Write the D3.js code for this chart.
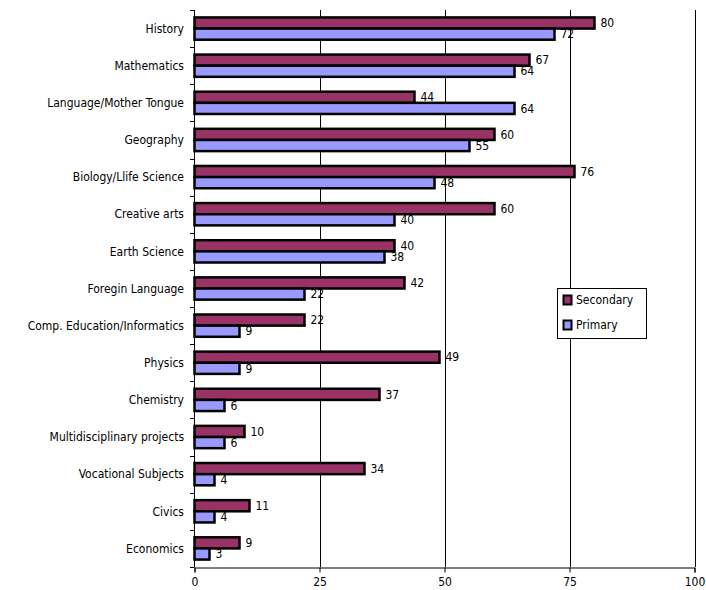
<!DOCTYPE html>
<html><head><meta charset="utf-8">
<script src="https://cdn.jsdelivr.net/npm/d3@7"></script>
<style>body{margin:0;background:#fff}svg{display:block}text{font-family:"DejaVu Sans Condensed","DejaVu Sans",sans-serif;font-stretch:condensed;font-size:12px;fill:#000}</style>
</head><body>
<script>
const categories = ["History","Mathematics","Language/Mother Tongue","Geography","Biology/Llife Science","Creative arts","Earth Science","Foregin Language","Comp. Education/Informatics","Physics","Chemistry","Multidisciplinary projects","Vocational Subjects","Civics","Economics"];
const secondary = [80,67,44,60,76,60,40,42,22,49,37,10,34,11,9];
const primary   = [72,64,64,55,48,40,38,22,9,9,6,6,4,4,3];
const seriesNames = ["Secondary","Primary"];
const xTicks = [0,25,50,75,100];

const W=706,H=590;
const svg=d3.select("body").append("svg").attr("width",W).attr("height",H);
const x=d3.scaleLinear().domain([0,100]).range([194.5,694.5]);
const y=d3.scaleBand().domain(categories).range([10,567]).paddingInner(0.4).paddingOuter(0.2);
const sub=d3.scaleBand().domain(seriesNames).range([0,y.bandwidth()]);
const colors={Secondary:"#993366",Primary:"#9999FF"};
const FONT='"DejaVu Sans Condensed","DejaVu Sans",sans-serif';

// gridlines
svg.append("g").selectAll("line").data(xTicks.slice(1)).join("line")
  .attr("x1",d=>Math.round(x(d))+0.5).attr("x2",d=>Math.round(x(d))+0.5)
  .attr("y1",10).attr("y2",567).attr("stroke","#000").attr("stroke-width",1);

// bars
const data=[];
categories.forEach((c,i)=>{data.push({c,s:"Secondary",v:secondary[i]});data.push({c,s:"Primary",v:primary[i]});});
svg.append("g").selectAll("rect").data(data).join("rect")
  .attr("x",x(0)).attr("y",d=>y(d.c)+sub(d.s))
  .attr("width",d=>x(d.v)-x(0)).attr("height",sub.bandwidth())
  .attr("fill",d=>colors[d.s]).attr("stroke","#000").attr("stroke-width",2.5);

// value labels
svg.append("g").selectAll("text").data(data).join("text")
  .attr("x",d=>x(d.v)+6).attr("y",d=>y(d.c)+sub(d.s)+sub.bandwidth()/2)
  .attr("dy","0.35em").text(d=>d.v);

// y axis
const yAxisG=svg.append("g");
yAxisG.append("line").attr("x1",194.5).attr("x2",194.5).attr("y1",10).attr("y2",567).attr("stroke","#000");
const bounds=categories.map(c=>y(c)-y.step()*y.paddingInner()/2);
bounds[0]=10; bounds.push(567);
yAxisG.selectAll("line.t").data(bounds).join("line").attr("class","t")
  .attr("x1",190).attr("x2",194.5).attr("y1",d=>Math.round(d)+0.5).attr("y2",d=>Math.round(d)+0.5).attr("stroke","#000");
yAxisG.selectAll("text").data(categories).join("text")
  .attr("x",184).attr("y",d=>y(d)+y.bandwidth()/2).attr("dy","0.35em").attr("text-anchor","end").text(d=>d);

// x axis
const xAxis=d3.axisBottom(x).tickValues(xTicks).tickSize(5).tickPadding(5);
const xg=svg.append("g").attr("transform","translate(0,567.5)").call(xAxis);
xg.select(".domain").attr("stroke","#000");
xg.selectAll(".tick line").attr("stroke","#000");
xg.selectAll("text").style("font-family",FONT).style("font-size","12px").attr("fill","#000");

// legend
const lg=svg.append("g");
lg.append("rect").attr("x",557.5).attr("y",288.5).attr("width",89).attr("height",50).attr("fill","#fff").attr("stroke","#000");
seriesNames.forEach((s,i)=>{
  const yy=295+i*25;
  lg.append("rect").attr("x",563.5).attr("y",yy+0.5).attr("width",8).attr("height",9).attr("fill",colors[s]).attr("stroke","#000").attr("stroke-width",2);
  lg.append("text").attr("x",576).attr("y",yy+5).attr("dy","0.35em").text(s);
});
</script>
</body></html>
